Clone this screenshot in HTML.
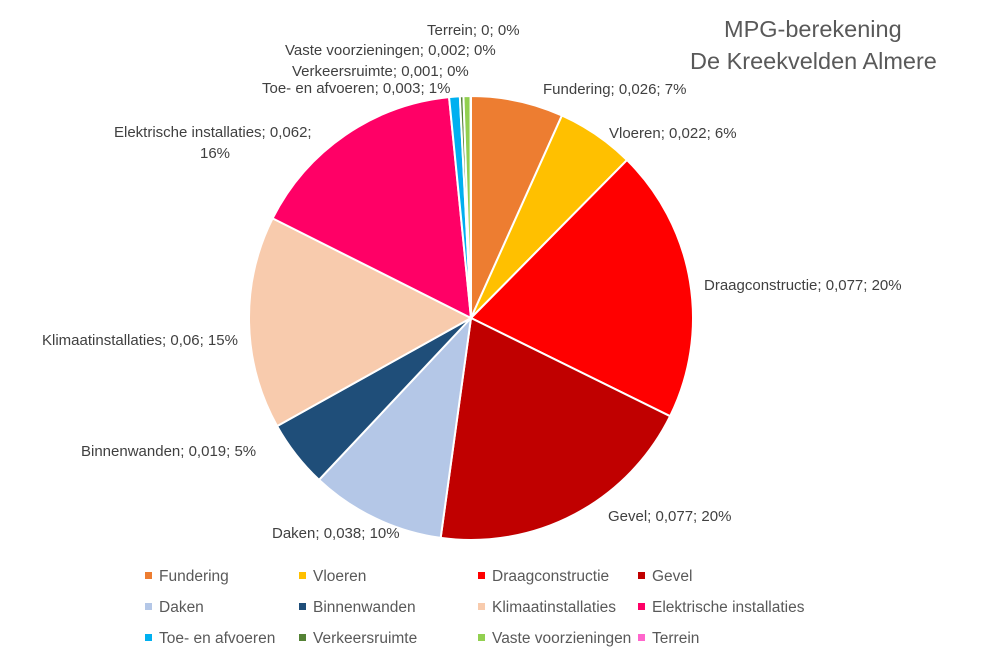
<!DOCTYPE html>
<html><head><meta charset="utf-8"><style>
body{margin:0;background:#fff;}
#c{position:relative;width:981px;height:661px;overflow:hidden;font-family:"Liberation Sans",sans-serif;color:#404040;}
.l{position:absolute;font-size:15px;white-space:nowrap;line-height:17px;}
.t{position:absolute;font-size:23.5px;color:#595959;white-space:nowrap;}
.g{position:absolute;font-size:15.5px;color:#595959;white-space:nowrap;}
.g i{display:inline-block;width:7px;height:7px;margin-right:7px;vertical-align:middle;position:relative;top:-1px;}
</style></head><body><div id="c">
<svg id="s" width="981" height="661" style="position:absolute;left:0;top:0"></svg>
<div class="t" style="left:724px;top:16px">MPG-berekening</div>
<div class="t" style="left:690px;top:48px">De Kreekvelden Almere</div>
<div class="l" style="left:427px;top:22px">Terrein; 0; 0%</div>
<div class="l" style="left:285px;top:42px">Vaste voorzieningen; 0,002; 0%</div>
<div class="l" style="left:292px;top:63px">Verkeersruimte; 0,001; 0%</div>
<div class="l" style="left:262px;top:80px">Toe- en afvoeren; 0,003; 1%</div>
<div class="l" style="left:543px;top:81px">Fundering; 0,026; 7%</div>
<div class="l" style="left:609px;top:125px">Vloeren; 0,022; 6%</div>
<div class="l" style="left:114px;top:124px">Elektrische installaties; 0,062;</div>
<div class="l" style="left:200px;top:145px">16%</div>
<div class="l" style="left:704px;top:277px">Draagconstructie; 0,077; 20%</div>
<div class="l" style="left:42px;top:332px">Klimaatinstallaties; 0,06; 15%</div>
<div class="l" style="left:81px;top:443px">Binnenwanden; 0,019; 5%</div>
<div class="l" style="left:608px;top:508px">Gevel; 0,077; 20%</div>
<div class="l" style="left:272px;top:525px">Daken; 0,038; 10%</div>
<div class="g" style="left:145px;top:568px"><i style="background:#ED7D31"></i>Fundering</div>
<div class="g" style="left:299px;top:568px"><i style="background:#FFC000"></i>Vloeren</div>
<div class="g" style="left:478px;top:568px"><i style="background:#FF0000"></i>Draagconstructie</div>
<div class="g" style="left:638px;top:568px"><i style="background:#C00000"></i>Gevel</div>
<div class="g" style="left:145px;top:599px"><i style="background:#B4C7E7"></i>Daken</div>
<div class="g" style="left:299px;top:599px"><i style="background:#1F4E79"></i>Binnenwanden</div>
<div class="g" style="left:478px;top:599px"><i style="background:#F8CBAD"></i>Klimaatinstallaties</div>
<div class="g" style="left:638px;top:599px"><i style="background:#FF0066"></i>Elektrische installaties</div>
<div class="g" style="left:145px;top:630px"><i style="background:#00B0F0"></i>Toe- en afvoeren</div>
<div class="g" style="left:299px;top:630px"><i style="background:#548235"></i>Verkeersruimte</div>
<div class="g" style="left:478px;top:630px"><i style="background:#92D050"></i>Vaste voorzieningen</div>
<div class="g" style="left:638px;top:630px"><i style="background:#FF66CC"></i>Terrein</div>
</div>
<script>
var v=[0.026,0.022,0.077,0.077,0.038,0.019,0.06,0.062,0.003,0.001,0.002,0.0001];
var c=["#ED7D31","#FFC000","#FF0000","#C00000","#B4C7E7","#1F4E79","#F8CBAD","#FF0066","#00B0F0","#548235","#92D050","#FF66CC"];
var t=v.reduce(function(a,b){return a+b},0),cx=471,cy=318,r=222,a=0,h="";
for(var i=0;i<v.length;i++){var b=a+v[i]/t*2*Math.PI;
var x1=cx+r*Math.sin(a),y1=cy-r*Math.cos(a),x2=cx+r*Math.sin(b),y2=cy-r*Math.cos(b);
h+='<path d="M'+cx+' '+cy+'L'+x1+' '+y1+'A'+r+' '+r+' 0 '+((b-a)>Math.PI?1:0)+' 1 '+x2+' '+y2+'Z" fill="'+c[i]+'" stroke="#fff" stroke-width="2"/>';a=b;}
document.getElementById("s").innerHTML=h;
</script>
</body></html>
